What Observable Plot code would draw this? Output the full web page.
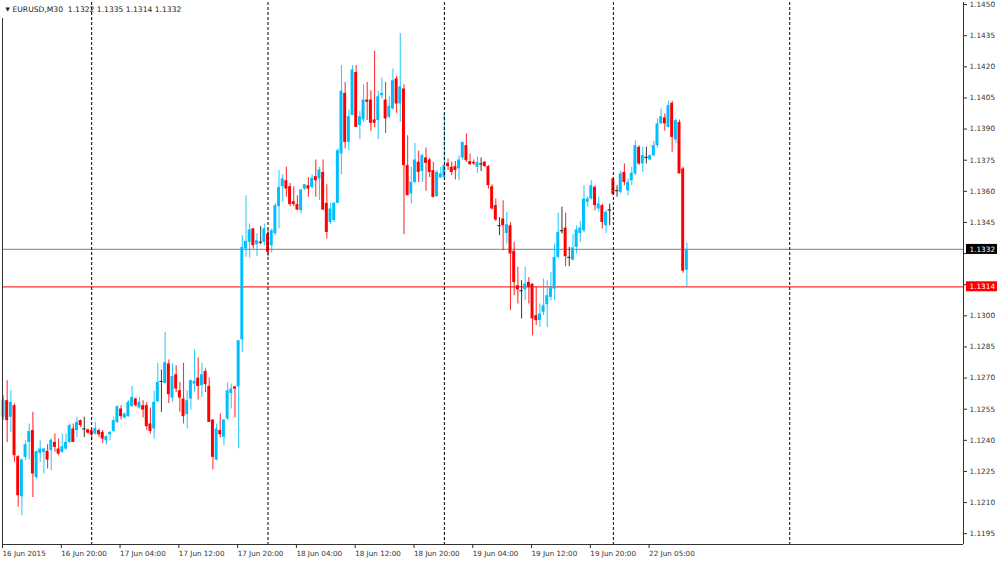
<!DOCTYPE html>
<html><head><meta charset="utf-8">
<script src="https://cdn.jsdelivr.net/npm/d3@7"></script>
<script src="https://cdn.jsdelivr.net/npm/@observablehq/plot@0.6"></script>
<style>
html,body{margin:0;padding:0;background:#fff;}
#chart{width:1000px;height:561px;overflow:hidden;}
</style></head><body><div id="chart"></div>
<script>
// ---- data ----
const symbol = "EURUSD,M30";
const timeLabels = ["16 Jun 2015","16 Jun 20:00","17 Jun 04:00","17 Jun 12:00","17 Jun 20:00","18 Jun 04:00","18 Jun 12:00","18 Jun 20:00","19 Jun 04:00","19 Jun 12:00","19 Jun 20:00","22 Jun 05:00"];
const barsPerLabel = 16;
const separatorBars = [24, 72, 120, 166, 214];
const bidPrice = 1.1332;
const levelPrice = 1.1314;
const priceTicks = [1.1195,1.1210,1.1225,1.1240,1.1255,1.1270,1.1285,1.1300,1.1315,1.1330,1.1345,1.1360,1.1375,1.1390,1.1405,1.1420,1.1435,1.1450];

const open = [1.12511,1.12591,1.12511,1.12567,1.12321,1.12128,1.12318,1.12390,1.12447,1.12221,
1.12337,1.12342,1.12347,1.12350,1.12390,1.12358,1.12342,1.12358,1.12390,1.12455,
1.12447,1.12495,1.12455,1.12450,1.12447,1.12430,1.12447,1.12438,1.12398,1.12427,
1.12443,1.12486,1.12551,1.12508,1.12514,1.12562,1.12599,1.12556,1.12567,1.12567,
1.12479,1.12455,1.12586,1.12684,1.12674,1.12768,1.12604,1.12716,1.12639,1.12599,
1.12524,1.12599,1.12671,1.12700,1.12663,1.12732,1.12660,1.12498,1.12305,1.12447,
1.12414,1.12503,1.12626,1.12658,1.12658,1.12884,1.13322,1.13354,1.13419,1.13343,
1.13355,1.13354,1.13394,1.13338,1.13396,1.13526,1.13622,1.13651,1.13622,1.13550,
1.13536,1.13507,1.13611,1.13627,1.13619,1.13671,1.13660,1.13691,1.13542,1.13450,
1.13459,1.13542,1.13780,1.14072,1.13836,1.13965,1.14173,1.13917,1.13944,1.14040,
1.14040,1.13944,1.13941,1.14061,1.14040,1.13957,1.13997,1.14142,1.14021,1.14093,
1.13724,1.13587,1.13643,1.13740,1.13696,1.13761,1.13751,1.13700,1.13574,1.13664,
1.13667,1.13735,1.13716,1.13719,1.13708,1.13761,1.13820,1.13743,1.13740,1.13716,
1.13732,1.13740,1.13719,1.13622,1.13531,1.13434,1.13467,1.13397,1.13434,1.13311,
1.13145,1.13121,1.13125,1.13161,1.13153,1.13001,1.12977,1.13017,1.13054,1.13089,
1.13129,1.13282,1.13410,1.13423,1.13282,1.13269,1.13330,1.13397,1.13410,1.13547,
1.13563,1.13619,1.13515,1.13531,1.13434,1.13510,1.13660,1.13603,1.13595,1.13691,
1.13603,1.13651,1.13684,1.13812,1.13732,1.13764,1.13751,1.13772,1.13820,1.13925,
1.13954,1.13908,1.14024,1.13848,1.13932,1.13708,1.1322];

const high = [1.12615,1.12687,1.12639,1.12575,1.12326,1.12310,1.12398,1.12479,1.12535,1.12350,
1.12398,1.12360,1.12379,1.12406,1.12430,1.12406,1.12430,1.12430,1.12479,1.12479,
1.12511,1.12498,1.12511,1.12455,1.12450,1.12486,1.12455,1.12447,1.12422,1.12442,
1.12511,1.12567,1.12567,1.12530,1.12591,1.12659,1.12604,1.12607,1.12591,1.12583,
1.12556,1.12636,1.12771,1.12739,1.12920,1.12787,1.12768,1.12760,1.12679,1.12771,
1.12639,1.12691,1.12835,1.12797,1.12771,1.12744,1.12700,1.12498,1.12479,1.12527,
1.12498,1.12679,1.12671,1.12658,1.12880,1.13386,1.13579,1.13443,1.13421,1.13396,
1.13430,1.13443,1.13419,1.13419,1.13541,1.13700,1.13680,1.13716,1.13638,1.13622,
1.13579,1.13607,1.13632,1.13667,1.13680,1.13751,1.13716,1.13751,1.13632,1.13542,
1.13547,1.13804,1.14206,1.14125,1.13992,1.14206,1.14206,1.13985,1.14114,1.14125,
1.14085,1.14275,1.14082,1.14146,1.14125,1.14056,1.14190,1.14153,1.14361,1.14114,
1.13868,1.13716,1.13831,1.13793,1.13780,1.13809,1.13761,1.13740,1.13700,1.13716,
1.13973,1.13756,1.13740,1.13744,1.13772,1.13836,1.13876,1.13780,1.13751,1.13764,
1.13761,1.13744,1.13724,1.13632,1.13563,1.13474,1.13555,1.13499,1.13449,1.13354,
1.13234,1.13169,1.13234,1.13185,1.13153,1.13137,1.13057,1.13178,1.13169,1.13209,
1.13346,1.13494,1.13523,1.13494,1.13330,1.13391,1.13434,1.13455,1.13627,1.13574,
1.13651,1.13627,1.13571,1.13539,1.13507,1.13539,1.13664,1.13627,1.13696,1.13732,
1.13660,1.13716,1.13844,1.13820,1.13812,1.13812,1.13775,1.13841,1.13949,1.13997,
1.13973,1.14034,1.14034,1.13949,1.13944,1.13716,1.1335];

const low = [1.12495,1.12390,1.12438,1.12294,1.12077,1.12037,1.12302,1.12305,1.12125,1.12214,
1.12294,1.12238,1.12262,1.12254,1.12342,1.12326,1.12337,1.12350,1.12385,1.12390,
1.12414,1.12462,1.12414,1.12430,1.12398,1.12426,1.12414,1.12385,1.12377,1.12398,
1.12438,1.12481,1.12498,1.12503,1.12511,1.12562,1.12559,1.12551,1.12508,1.12447,
1.12430,1.12406,1.12583,1.12535,1.12671,1.12578,1.12583,1.12631,1.12535,1.12479,
1.12455,1.12546,1.12631,1.12594,1.12607,1.12631,1.12486,1.12257,1.12302,1.12411,
1.12374,1.12495,1.12551,1.12508,1.12360,1.12824,1.13282,1.13279,1.13322,1.13285,
1.13343,1.13338,1.13285,1.13301,1.13386,1.13420,1.13547,1.13571,1.13526,1.13526,
1.13507,1.13491,1.13603,1.13571,1.13611,1.13571,1.13555,1.13507,1.13370,1.13439,
1.13450,1.13542,1.13680,1.13804,1.13796,1.13965,1.13908,1.13848,1.13932,1.13941,
1.13889,1.13908,1.13848,1.14045,1.13879,1.13949,1.13992,1.13976,1.13932,1.13391,
1.13579,1.13539,1.13637,1.13643,1.13643,1.13600,1.13667,1.13568,1.13571,1.13664,
1.13664,1.13700,1.13676,1.13655,1.13651,1.13748,1.13740,1.13724,1.13724,1.13687,
1.13696,1.13716,1.13611,1.13510,1.13455,1.13386,1.13314,1.13346,1.13025,1.13097,
1.13057,1.12985,1.13073,1.13057,1.12904,1.12953,1.12944,1.13001,1.12944,1.13073,
1.13073,1.13274,1.13394,1.13237,1.13237,1.13263,1.13298,1.13354,1.13402,1.13523,
1.13558,1.13507,1.13499,1.13419,1.13397,1.13434,1.13584,1.13571,1.13587,1.13627,
1.13579,1.13627,1.13676,1.13724,1.13691,1.13732,1.13748,1.13767,1.13809,1.13925,
1.13889,1.13905,1.13788,1.13831,1.13684,1.13205,1.1314];

const close = [1.12594,1.12495,1.12583,1.12326,1.12133,1.12305,1.12379,1.12442,1.12238,1.12345,
1.12358,1.12358,1.12305,1.12401,1.12366,1.12334,1.12369,1.12390,1.12471,1.12390,
1.12486,1.12471,1.12455,1.12435,1.12427,1.12457,1.12427,1.12406,1.12418,1.12438,
1.12495,1.12562,1.12514,1.12527,1.12583,1.12607,1.12567,1.12583,1.12546,1.12466,
1.12443,1.12583,1.12679,1.12684,1.12775,1.12620,1.12707,1.12647,1.12604,1.12514,
1.12591,1.12687,1.12684,1.12659,1.12716,1.12668,1.12486,1.12318,1.12455,1.12427,
1.12498,1.12639,1.12647,1.12647,1.12880,1.13330,1.13359,1.13414,1.13338,1.13362,
1.13355,1.13419,1.13306,1.13410,1.13531,1.13619,1.13660,1.13611,1.13536,1.13536,
1.13510,1.13607,1.13632,1.13611,1.13663,1.13651,1.13703,1.13510,1.13402,1.13515,
1.13542,1.13796,1.14082,1.13836,1.13960,1.14185,1.13908,1.13960,1.14040,1.14029,
1.13928,1.13928,1.14056,1.14072,1.13949,1.14010,1.14133,1.14021,1.14104,1.13724,
1.13579,1.13643,1.13751,1.13691,1.13772,1.13735,1.13691,1.13571,1.13691,1.13684,
1.13724,1.13719,1.13691,1.13700,1.13751,1.13836,1.13748,1.13729,1.13732,1.13740,
1.13732,1.13719,1.13627,1.13515,1.13462,1.13434,1.13434,1.13439,1.13298,1.13161,
1.13125,1.13121,1.13153,1.13137,1.12985,1.12977,1.13009,1.13049,1.13097,1.13137,
1.13282,1.13402,1.13410,1.13285,1.13282,1.13327,1.13414,1.13423,1.13563,1.13563,
1.13627,1.13531,1.13539,1.13450,1.13499,1.13510,1.13584,1.13603,1.13684,1.13643,
1.13643,1.13687,1.13820,1.13732,1.13772,1.13764,1.13772,1.13820,1.13925,1.13960,
1.13925,1.14013,1.13860,1.13941,1.13684,1.13215,1.1332];

// ---- build ----
const bars = open.map((o, i) => ({i, open: o, high: high[i], low: low[i], close: close[i]}));
const last = bars[bars.length - 1];
const headerText = `${symbol}  ${last.open.toFixed(4)} ${last.high.toFixed(4)} ${last.low.toFixed(4)} ${last.close.toFixed(4)}`;
const UP = "#00bfff", DOWN = "#ff0000", FLAT = "#1a1a1a";
const colorOf = d => d.close > d.open ? UP : d.close < d.open ? DOWN : FLAT;
const bodies = bars.filter(d => d.close !== d.open);
const dojis = bars.filter(d => d.close === d.open);

const xMin = -0.27, xMax = 261.3;
const yMin = 1.11898, yMax = 1.14510;
const tags = [{price: bidPrice, kind: "bid"}, {price: levelPrice, kind: "level"}];
const font = "DejaVu Sans";
// tick labels hidden behind the price tags are left blank
const hiddenTick = v => tags.some(t => Math.abs(t.price - v) < 0.0004);

const chart = Plot.plot({
  width: 1000, height: 561,
  marginLeft: 2, marginRight: 37, marginTop: 2, marginBottom: 17,
  style: {fontFamily: font, fontSize: "7.2px", color: "#2a2a2a", background: "#fff"},
  x: {type: "linear", domain: [xMin, xMax], axis: null, label: null},
  y: {type: "linear", domain: [yMin, yMax], axis: null, label: null},
  marks: [
    Plot.ruleY([bidPrice], {stroke: "#8f98a4", strokeWidth: 1.2}),
    Plot.ruleY([levelPrice], {stroke: "#ff3030", strokeWidth: 1.3}),
    Plot.ruleX(bars, {x: "i", y1: "low", y2: "high", stroke: colorOf, strokeWidth: 1.1, strokeOpacity: 0.8}),
    Plot.rect(bodies, {x1: d => d.i - 0.4, x2: d => d.i + 0.4, y1: "open", y2: "close", fill: colorOf}),
    Plot.ruleY(dojis, {y: "open", x1: d => d.i - 0.45, x2: d => d.i + 0.45, stroke: FLAT, strokeWidth: 1}),
    Plot.ruleX(separatorBars, {stroke: "#000", strokeWidth: 1, strokeDasharray: "3,2"}),
    // frame
    Plot.ruleX([xMin], {stroke: "#333", insetTop: 16}),
    Plot.ruleX([xMax], {stroke: "#333"}),
    Plot.ruleY([yMin], {stroke: "#333"}),
    // axes
    Plot.axisY({anchor: "right", label: null, ticks: priceTicks, tickFormat: d => hiddenTick(d) ? "" : d.toFixed(4), tickSize: 3, tickPadding: 3, fontSize: 7.3, fill: "#333"}),
    Plot.axisX({anchor: "bottom", label: null, ticks: timeLabels.map((_, k) => k * barsPerLabel), tickFormat: v => timeLabels[Math.round(v / barsPerLabel)], tickSize: 4, tickPadding: 2, textAnchor: "start", dx: -1, fontSize: 7.2, fill: "#333"}),
    // price tags
    Plot.rect(tags, {x1: () => xMax, x2: () => xMax, y1: "price", y2: "price", insetLeft: 3, insetRight: -34, insetTop: -5, insetBottom: -5, fill: d => d.kind === "bid" ? "#000" : "#ff0000"}),
    Plot.text(tags, {x: () => xMax, y: "price", text: d => d.price.toFixed(4), dx: 6, textAnchor: "start", fill: "#fff", fontSize: 7.3}),
    // header
    Plot.text(["\u25BC"], {frameAnchor: "top-left", dx: 3, dy: 5, fontSize: 5.5, fill: "#222", textAnchor: "start"}),
    Plot.text([headerText], {frameAnchor: "top-left", dx: 10, dy: 4, fontSize: 7.6, fill: "#222", textAnchor: "start"})
  ]
});
document.getElementById("chart").appendChild(chart);
</script>
</body></html>
